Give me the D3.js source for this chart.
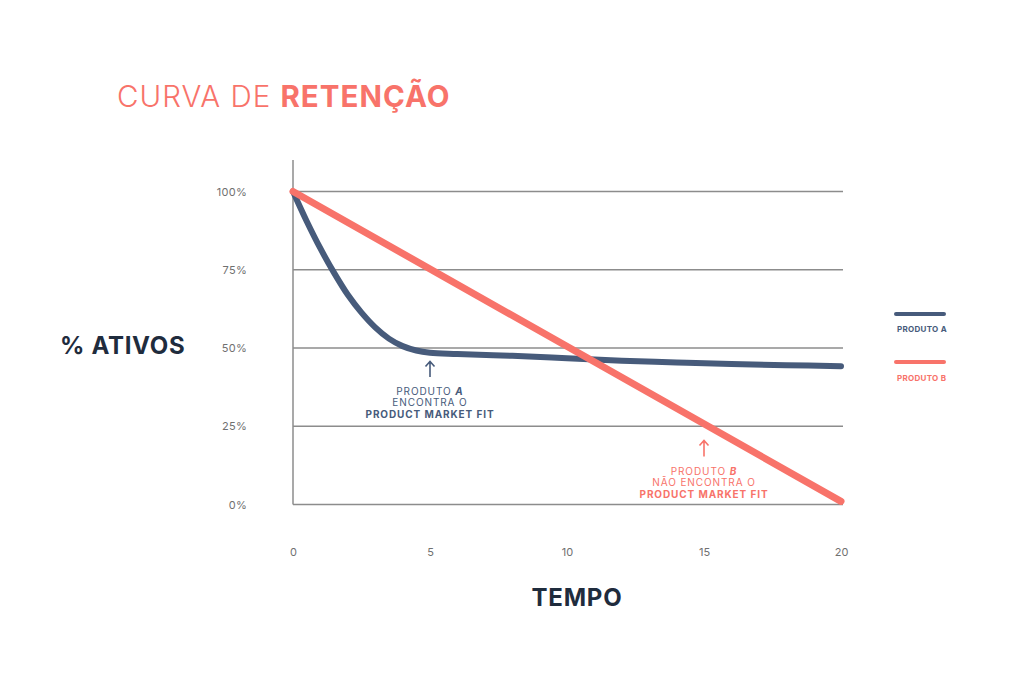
<!DOCTYPE html>
<html>
<head>
<meta charset="utf-8">
<script src="https://cdn.jsdelivr.net/npm/d3@7"></script>
<style>
  body { margin: 0; background: #fff; }
  svg { font-family: "Inter", "Open Sans", sans-serif; }
</style>
</head>
<body>
<div id="chart"></div>
<script>
// data
var tempo = [0, 0.5, 1, 1.5, 2, 2.5, 3, 3.5, 4, 4.5, 5, 6, 8, 10, 12, 14, 16, 18, 20];
var produtoA = [100, 90.5, 81.8, 74, 67, 61.3, 56.6, 53, 50.6, 49.2, 48.5, 48.1, 47.5, 46.7, 45.9, 45.4, 44.9, 44.5, 44.2];
var tempoB = [0, 20];
var produtoB = [100, 1];
var yTicks = [0, 25, 50, 75, 100];
var xTicks = [0, 5, 10, 15, 20];
var legendNames = ["PRODUTO A", "PRODUTO B"];

var svgWidth = 1024;
var svgHeight = 683;

var navy = "#475b7b";
var coral = "#f8736a";
var dark = "#1f2c3d";
var grid = "#8c8c8c";

var svg = d3.select("#chart")
  .append("svg")
  .attr("width", svgWidth)
  .attr("height", svgHeight);

var xScale = d3.scaleLinear()
  .domain([0, 20])
  .range([293, 841]);

var yScale = d3.scaleLinear()
  .domain([0, 100])
  .range([504.5, 191.5]);

// title
var title = svg.append("text")
  .attr("x", 117)
  .attr("y", 107)
  .attr("font-size", "29.5px")
  .attr("letter-spacing", "1px")
  .attr("fill", coral);
title.append("tspan").attr("font-weight", 300).text("CURVA DE ");
title.append("tspan").attr("font-weight", 700).text("RETENÇÃO");

// gridlines
svg.append("g")
  .selectAll("line")
  .data(yTicks)
  .enter()
  .append("line")
  .attr("x1", xScale(0))
  .attr("x2", 843)
  .attr("y1", d => yScale(d))
  .attr("y2", d => yScale(d))
  .attr("stroke", grid)
  .attr("stroke-width", 1.5);

// vertical axis line
svg.append("line")
  .attr("x1", xScale(0))
  .attr("x2", xScale(0))
  .attr("y1", 160)
  .attr("y2", yScale(0))
  .attr("stroke", grid)
  .attr("stroke-width", 1.5);

// y tick labels
var leftAxis = d3.axisLeft(yScale)
  .tickValues(yTicks)
  .tickFormat(d => d + "%")
  .tickSize(0)
  .tickPadding(0);

var yAxisG = svg.append("g")
  .attr("transform", "translate(247, 0)")
  .call(leftAxis);
yAxisG.select(".domain").remove();
yAxisG.selectAll("text")
  .attr("font-family", "Inter, sans-serif")
  .attr("font-size", "11px")
  .attr("letter-spacing", "0.3px")
  .attr("fill", "#707070");

// x tick labels
var bottomAxis = d3.axisBottom(xScale)
  .tickValues(xTicks)
  .tickSize(0)
  .tickPadding(0);

var xAxisG = svg.append("g")
  .attr("transform", "translate(0, 548)")
  .call(bottomAxis);
xAxisG.select(".domain").remove();
xAxisG.selectAll("text")
  .attr("font-family", "Inter, sans-serif")
  .attr("font-size", "11px")
  .attr("fill", "#707070");

// axis titles
svg.append("text")
  .attr("x", 60)
  .attr("y", 354)
  .attr("font-size", "24px")
  .attr("font-weight", 700)
  .attr("letter-spacing", "0.7px")
  .attr("fill", dark)
  .text("% ATIVOS");

svg.append("text")
  .attr("x", 577)
  .attr("y", 606)
  .attr("text-anchor", "middle")
  .attr("font-size", "24px")
  .attr("font-weight", 700)
  .attr("letter-spacing", "0.8px")
  .attr("fill", dark)
  .text("TEMPO");

// lines
var line = d3.line()
  .x(d => xScale(d[0]))
  .y(d => yScale(d[1]))
  .curve(d3.curveCatmullRom.alpha(0.5));

svg.append("path")
  .datum(d3.zip(tempo, produtoA))
  .attr("d", line)
  .attr("fill", "none")
  .attr("stroke", navy)
  .attr("stroke-width", 6)
  .attr("stroke-linecap", "round");

svg.append("path")
  .datum(d3.zip(tempoB, produtoB))
  .attr("d", line)
  .attr("fill", "none")
  .attr("stroke", coral)
  .attr("stroke-width", 7)
  .attr("stroke-linecap", "round");

// annotations
function arrow(t, top, bottom, color) {
  var x = xScale(t);
  svg.append("path")
    .attr("d", `M${x},${top + 1} L${x},${bottom} M${x - 4.5},${top + 5} L${x},${top} L${x + 4.5},${top + 5}`)
    .attr("fill", "none")
    .attr("stroke", color)
    .attr("stroke-width", 1.6);
}

function note(t, y0, lines, color) {
  var g = svg.append("g");
  lines.forEach(function(parts, i) {
    var txt = g.append("text")
      .attr("x", xScale(t))
      .attr("y", y0 + i * 11.4)
      .attr("text-anchor", "middle")
      .attr("font-size", "10px")
      .attr("letter-spacing", "0.9px")
      .attr("fill", color);
    parts.forEach(function(p) {
      txt.append("tspan")
        .attr("font-weight", p.b ? 700 : 400)
        .attr("font-style", p.i ? "italic" : "normal")
        .text(p.t);
    });
  });
}

arrow(5, 361.5, 377, navy);
note(5, 395, [
  [{t: "PRODUTO "}, {t: "A", b: true, i: true}],
  [{t: "ENCONTRA O"}],
  [{t: "PRODUCT MARKET FIT", b: true}]
], navy);

arrow(15, 440.5, 456.5, coral);
note(15, 475, [
  [{t: "PRODUTO "}, {t: "B", b: true, i: true}],
  [{t: "NÃO ENCONTRA O"}],
  [{t: "PRODUCT MARKET FIT", b: true}]
], coral);

// legend
var legend = svg.append("g")
  .selectAll("g")
  .data(legendNames)
  .enter()
  .append("g")
  .attr("transform", (d, i) => `translate(896, ${314 + i * 48})`);

legend.append("line")
  .attr("x1", 0)
  .attr("x2", 48)
  .attr("stroke", (d, i) => i === 0 ? navy : coral)
  .attr("stroke-width", 4)
  .attr("stroke-linecap", "round");

legend.append("text")
  .attr("x", 1)
  .attr("y", (d, i) => i === 0 ? 18 : 18.5)
  .attr("font-size", "8px")
  .attr("font-weight", 700)
  .attr("letter-spacing", "0.3px")
  .attr("fill", (d, i) => i === 0 ? navy : coral)
  .text(d => d);
</script>
</body>
</html>
